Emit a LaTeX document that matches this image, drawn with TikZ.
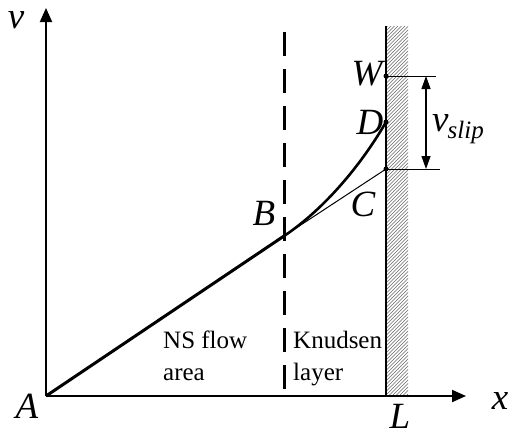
\documentclass[tikz,border=0pt]{standalone}
\usepackage{fontspec}
\setmainfont{Liberation Serif}
\usetikzlibrary{arrows.meta}
\begin{document}
\begin{tikzpicture}[x=1pt,y=-1pt,
  axis/.style={line width=2pt,-{Triangle[length=14pt,width=12pt]}},
  lbl/.style={font=\fontsize{37}{44}\selectfont\itshape,inner sep=0pt},
  txt/.style={font=\fontsize{25}{32}\selectfont,inner sep=0pt,align=left,anchor=north west},
  pt/.style={circle,fill=black,inner sep=0pt,minimum size=5pt},
  thinl/.style={line width=1pt}]
\useasboundingbox (0,0) rectangle (518,437);
% wall hatching
\begin{scope}
  \clip (386,26) rectangle (408,396);
  \foreach \t in {20,23.5,...,470} {
    \draw[gray!80!black,line width=0.6pt] (376,\t) -- (420,\t-44);
  }
\end{scope}
\draw[line width=1.3pt] (386,26) -- (386,396);
% coordinates
\coordinate (A) at (46,396);
\coordinate (yend) at (46,8);
\coordinate (xend) at (466,396);
\coordinate (B) at (284,236);
\coordinate (C) at (386,169);
\coordinate (D) at (386,122);
\coordinate (W) at (386,76);
\coordinate (dtop) at (284,32);
\coordinate (dbot) at (284,396);
\coordinate (Wr) at (436,76);
\coordinate (Cr) at (440,169);
\coordinate (at) at (426,76);
\coordinate (ab) at (426,169);
% dashed line
\draw[line width=3pt,dash pattern=on 24pt off 13pt] (dtop) -- (dbot);
% axes
\draw[axis] (A) -- (yend);
\draw[axis] (A) -- (xend);
% profile lines
\draw[thinl] (B) -- (C);
\draw[line width=3pt] (A) -- (B);
\draw[line width=2.6pt] (B) .. controls (326,208) and (363,162) .. (D);
% slip markers
\draw[thinl] (W) -- (Wr);
\draw[thinl] (C) -- (Cr);
\draw[line width=1.3pt,{Triangle[length=13pt,width=9pt]}-{Triangle[length=13pt,width=9pt]}] (at) -- (ab);
% points
\node[pt] (Wp) at (W) {};
\node[pt] (Dp) at (D) {};
\node[pt] (Cp) at (C) {};
% labels
\node[lbl] (lv) at (16,20) {v};
\node[lbl] (lA) at (27,406) {A};
\node[lbl] (lL) at (400,416) {L};
\node[lbl] (lx) at (500,401) {x};
\node[lbl] (lB) at (264,213) {B};
\node[lbl] (lC) at (363,204) {C};
\node[lbl] (lD) at (370,122) {D};
\node[lbl] (lW) at (367,74) {W};
\node[lbl,anchor=base west] (lvs) at (432,131) {v\kern-1pt\raisebox{-7pt}{\fontsize{25}{28}\selectfont slip}};
\node[txt] (ns) at (163,331) {NS flow\\area};
\node[txt] (kn) at (293,331) {Knudsen\\layer};
\end{tikzpicture}
\end{document}
